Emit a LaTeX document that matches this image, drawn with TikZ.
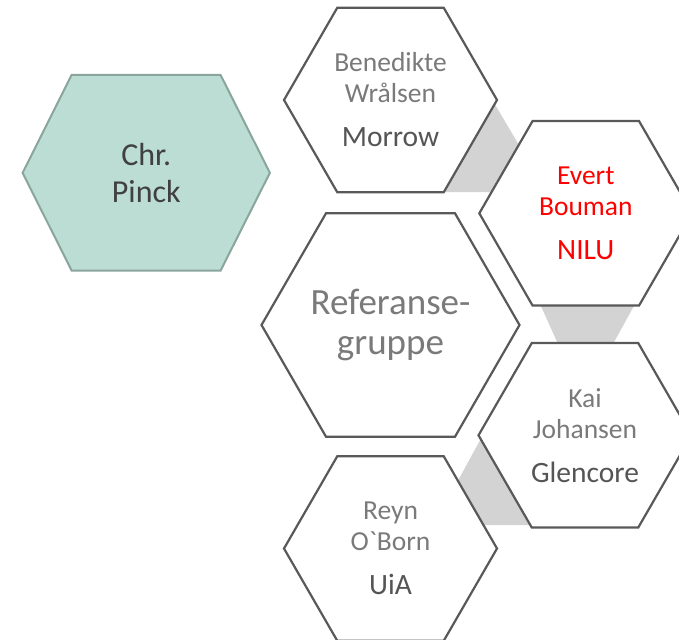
\documentclass[tikz,border=0pt]{standalone}
\usepackage{fontspec}
\setmainfont{Carlito}[Ligatures=TeXOff]
\usetikzlibrary{shapes.geometric,calc,backgrounds}
\definecolor{hexline}{HTML}{595959}
\definecolor{namegray}{HTML}{7A7A7A}
\definecolor{firmgray}{HTML}{555555}
\definecolor{linkgray}{HTML}{D3D3D3}
\definecolor{pinckfill}{HTML}{BBDDD4}
\definecolor{pinckline}{HTML}{8AA59C}
\definecolor{pincktext}{HTML}{404040}
\tikzset{
  hexa/.style={regular polygon, regular polygon sides=6, minimum size=213pt,
    inner sep=0pt, draw=hexline, line width=2.2pt, fill=white, align=center,
    text=namegray, font=\fontsize{27.5}{31}\selectfont},
  link/.style={fill=linkgray},
}
\newcommand{\firm}[2][firmgray]{\\[13pt]{\fontsize{29.5}{31}\selectfont\color{#1}#2}}
\begin{document}
\begin{tikzpicture}[x=1pt,y=-1pt]
            \useasboundingbox (0,0) rectangle (679,639);
            \clip (0,0) rectangle (679,639);
            % the green one on its own
            \coordinate (pinckc) at (146.3,172.8);
            \filldraw[fill=pinckfill, draw=pinckline, line width=2pt]
              ($(pinckc)+(-123.7,0)$) -- ++(49,-97.8) -- ++(149,0) -- ++(49.3,97.8)
              -- ++(-49.3,97.8) -- ++(-149,0) -- cycle;
            \node[text=pincktext, align=center, font=\fontsize{32}{37}\selectfont] (pinck) at (pinckc) {Chr.\\Pinck};
            % hexagon cluster
            \node[hexa] (bened) at (390.5,100) {Benedikte\\Wrålsen\firm{Morrow}};
            \node[hexa, text=red] (evert) at (585.8,213.3) {Evert\\Bouman\firm[red]{NILU}};
            \node[hexa, minimum size=258pt, inner sep=-12pt, font=\fontsize{37}{40}\selectfont] (refgr) at (390.5,325) {Referanse-\\gruppe};
            \node[hexa] (kai) at (585,435.3) {Kai\\Johansen\firm{Glencore}};
            \node[hexa] (reyn) at (390.5,548.5) {Reyn\\O`Born\firm{UiA}};
            % grey links behind
            \begin{scope}[on background layer]
            \fill[link] ($(bened)+(99.5,-4)$) -- ($(evert)+(-62,-60)$) -- ($(evert)+(-86,-21)$) -- ($(bened)+(40,92)$) -- cycle;
            \fill[link] ($(evert)+(-48.5,84.7)$) -- ($(evert)+(52.5,84.7)$) -- ($(kai)+(24.7,-85.3)$) -- ($(kai)+(-24.3,-85.3)$) -- cycle;
            \fill[link] ($(kai)+(-100,-4.3)$) -- ($(reyn)+(63.5,-60.5)$) -- ($(reyn)+(84.5,-23.5)$) -- ($(kai)+(-45,89.7)$) -- cycle;
            \end{scope}
\end{tikzpicture}
\end{document}
